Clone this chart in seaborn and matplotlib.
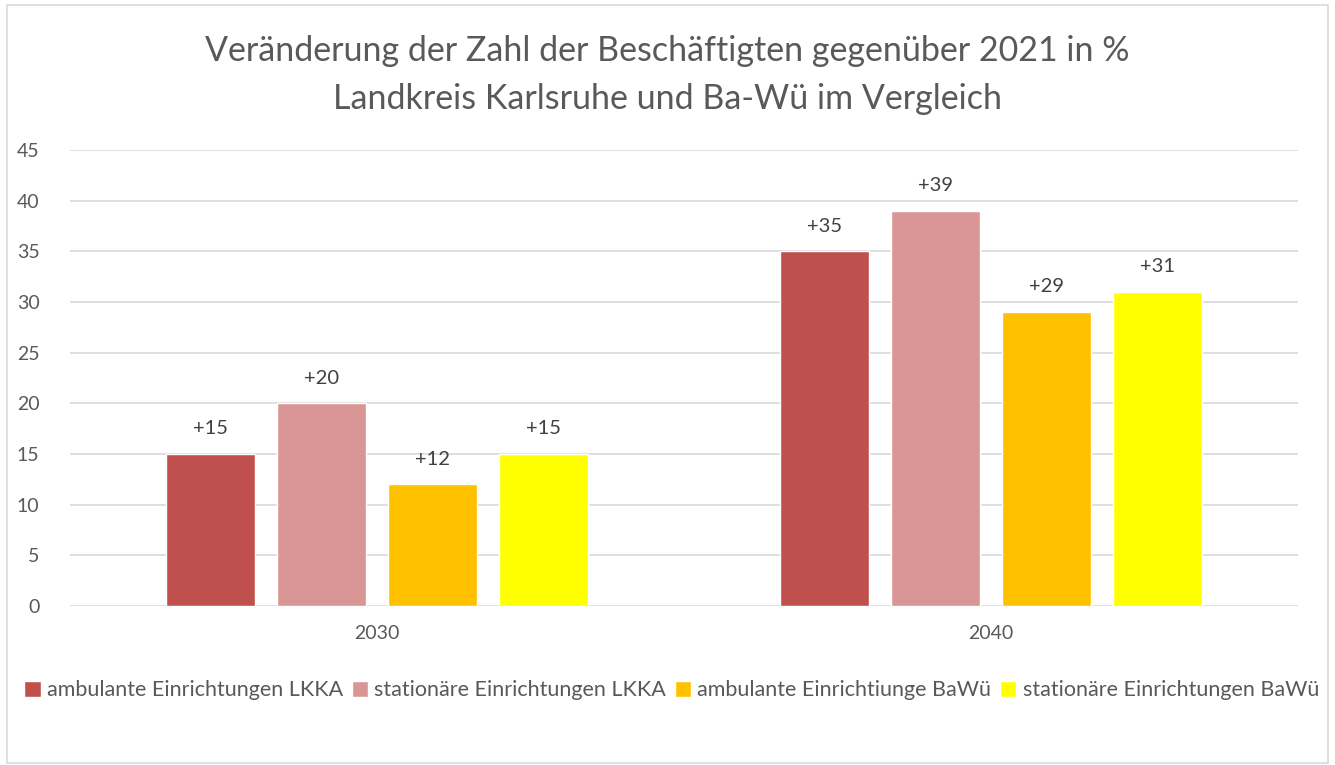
import matplotlib
matplotlib.use("Agg")
import matplotlib.pyplot as plt
import seaborn as sns
import pandas as pd
from matplotlib.patches import Rectangle

years = ["2030", "2040"]
series = ["ambulante Einrichtungen LKKA", "stationäre Einrichtungen LKKA",
          "ambulante Einrichtiunge BaWü", "stationäre Einrichtungen BaWü"]
amb_lkka = [15, 35]
stat_lkka = [20, 39]
amb_bawu = [12, 29]
stat_bawu = [15, 31]
colors = ["#C0504D", "#D99694", "#FFC000", "#FFFF00"]

rows = []
for name, vals in zip(series, [amb_lkka, stat_lkka, amb_bawu, stat_bawu]):
    for y, v in zip(years, vals):
        rows.append({"year": y, "series": name, "value": v})
df = pd.DataFrame(rows)

sns.set_style("white")
plt.rcParams['font.family'] = ['Lato', 'DejaVu Sans']
txt = "#595959"

fig = plt.figure(figsize=(13.35, 7.65), dpi=100)
ax = fig.add_axes([0.0524, 0.2078, 0.9199, 0.5961])
sns.barplot(data=df, x="year", y="value", hue="series", palette=colors,
            saturation=1, width=0.723, gap=0.2, ax=ax, legend=True)

ax.set_ylim(0, 45)
ax.set_xlim(-0.5, 1.5)
ax.set_yticks(range(0, 50, 5))
ax.yaxis.grid(True, color="#d9d9d9", linewidth=1.2)
ax.set_axisbelow(True)
for s in ax.spines.values():
    s.set_visible(False)
ax.tick_params(axis="both", length=0, labelsize=14, colors=txt)
ax.tick_params(axis="y", pad=22)
ax.tick_params(axis="x", pad=14)
ax.set_xlabel("")
ax.set_ylabel("")

for cont in ax.containers:
    ax.bar_label(cont, labels=["+%d" % v for v in cont.datavalues],
                 padding=12, fontsize=14.5, color="#404040")

fig.text(0.5, 0.902, "Veränderung der Zahl der Beschäftigten gegenüber 2021 in %\n"
         "Landkreis Karlsruhe und Ba-Wü im Vergleich",
         ha="center", va="center", fontsize=24.5, color=txt, linespacing=1.6)

handles, labels = ax.get_legend_handles_labels()
ax.legend(handles, labels, loc="center", bbox_to_anchor=(0.49, -0.185),
          ncol=4, frameon=False, fontsize=15.5, handlelength=0.75,
          handleheight=0.75, handletextpad=0.3, columnspacing=0.4,
          labelcolor=txt)

fig.patches.append(Rectangle((0.005, 0.003), 0.99, 0.99, transform=fig.transFigure,
                             fill=False, edgecolor="#d9d9d9", linewidth=1.2))

fig.savefig("out.png", dpi=100)
